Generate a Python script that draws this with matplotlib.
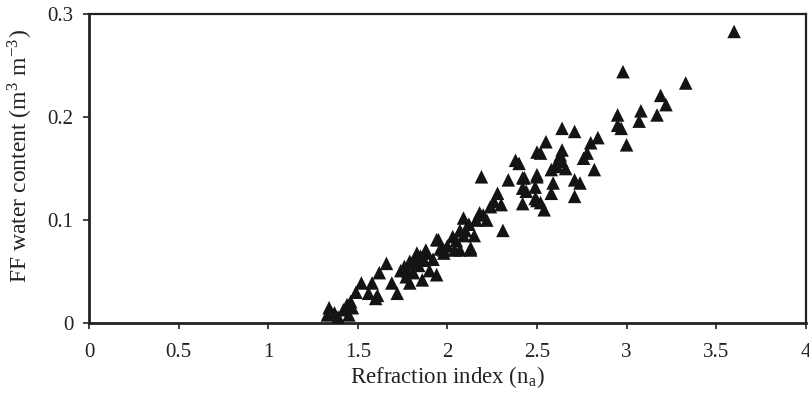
import matplotlib
matplotlib.use("Agg")
import matplotlib.pyplot as plt

refraction_index = [
    1.33, 1.34, 1.37, 1.39, 1.42, 1.45, 1.46, 1.47, 1.44,
    1.49, 1.52, 1.56, 1.58, 1.60, 1.61, 1.62, 1.66, 1.69, 1.72, 1.74,
    1.79, 1.79, 1.81, 1.83, 1.84, 1.86, 1.87, 1.88, 1.90, 1.94, 1.94,
    1.88, 1.95, 1.98, 1.98, 2.03, 2.04, 2.07, 2.07, 2.09, 2.09, 2.13,
    2.13, 2.18, 2.19, 2.22, 2.24, 2.28, 2.30, 2.31, 2.34, 2.38, 2.40,
    2.42, 2.42, 2.42, 2.43, 2.44, 2.49, 2.49, 2.50, 2.50, 2.50, 2.50,
    2.52, 2.52, 2.54, 2.55, 2.58, 2.58, 2.59, 2.60, 2.61, 2.63, 2.64,
    2.64, 2.64, 2.66, 2.71, 2.71, 2.71, 2.74, 2.76, 2.78, 2.80, 2.82,
    2.84, 2.95, 2.95, 2.97, 2.98, 3.00, 3.07, 3.08, 3.17, 3.19, 3.22,
    3.33, 3.60,
    1.76, 1.78, 1.80, 1.82, 1.77, 1.85, 1.92, 1.96, 2.00, 2.05, 2.10,
    2.12, 2.16, 2.20, 2.26, 2.15,
]
water_content = [
    0.008, 0.015, 0.010, 0.006, 0.013, 0.008, 0.021, 0.015, 0.018,
    0.030, 0.039, 0.029, 0.039, 0.024, 0.027, 0.049, 0.058, 0.039, 0.029, 0.051,
    0.060, 0.039, 0.049, 0.068, 0.056, 0.042, 0.061, 0.068, 0.051, 0.047, 0.081,
    0.071, 0.081, 0.071, 0.068, 0.084, 0.071, 0.071, 0.090, 0.085, 0.102, 0.073,
    0.071, 0.107, 0.142, 0.100, 0.113, 0.126, 0.115, 0.090, 0.139, 0.158, 0.155,
    0.141, 0.131, 0.116, 0.141, 0.128, 0.132, 0.121, 0.144, 0.119, 0.142, 0.166,
    0.165, 0.117, 0.110, 0.176, 0.149, 0.126, 0.136, 0.152, 0.153, 0.163, 0.189,
    0.168, 0.157, 0.150, 0.186, 0.139, 0.123, 0.136, 0.160, 0.165, 0.175, 0.149,
    0.180, 0.202, 0.192, 0.189, 0.244, 0.173, 0.196, 0.206, 0.202, 0.221, 0.212,
    0.233, 0.283,
    0.055, 0.050, 0.058, 0.062, 0.045, 0.065, 0.062, 0.072, 0.075, 0.080, 0.090,
    0.096, 0.100, 0.105, 0.118, 0.085,
]

x_ticks = [0, 0.5, 1, 1.5, 2, 2.5, 3, 3.5, 4]
x_tick_labels = ["0", "0.5", "1", "1.5", "2", "2.5", "3", "3.5", "4"]
y_ticks = [0, 0.1, 0.2, 0.3]
y_tick_labels = ["0", "0.1", "0.2", "0.3"]

plt.rcParams['font.family'] = ['Liberation Serif', 'DejaVu Serif']
plt.rcParams['mathtext.fontset'] = 'stix'

fig = plt.figure(figsize=(8.09, 3.98), dpi=100)
ax = fig.add_axes([0.110, 0.188, 0.886, 0.777])

ax.scatter(refraction_index, water_content, marker='^', s=95, color='#141414',
           edgecolors='none', zorder=3, clip_on=False)

ax.set_xlim(0, 4)
ax.set_ylim(0, 0.3)
ax.set_xticks(x_ticks)
ax.set_xticklabels(x_tick_labels)
ax.set_yticks(y_ticks)
ax.set_yticklabels(y_tick_labels)
ax.tick_params(axis='both', direction='out', length=4, width=1.2, labelsize=15,
               colors='#222222')
ax.tick_params(axis='x', pad=10)
ax.tick_params(axis='y', pad=7)

for side in ['left', 'bottom']:
    ax.spines[side].set_linewidth(2.0)
for side in ['top', 'right']:
    ax.spines[side].set_linewidth(1.6)
for sp in ax.spines.values():
    sp.set_color('#222222')

ax.set_xlabel("Refraction index (n$_\\mathregular{a}$)", fontsize=16.5, labelpad=2,
              color='#222222')
ax.set_ylabel("FF water content (m$^\\mathregular{3}$ m$^\\mathregular{-3}$)", fontsize=17,
              color='#222222')
ax.yaxis.set_label_coords(-0.076, 0.54)

fig.savefig("out.png", dpi=100)
